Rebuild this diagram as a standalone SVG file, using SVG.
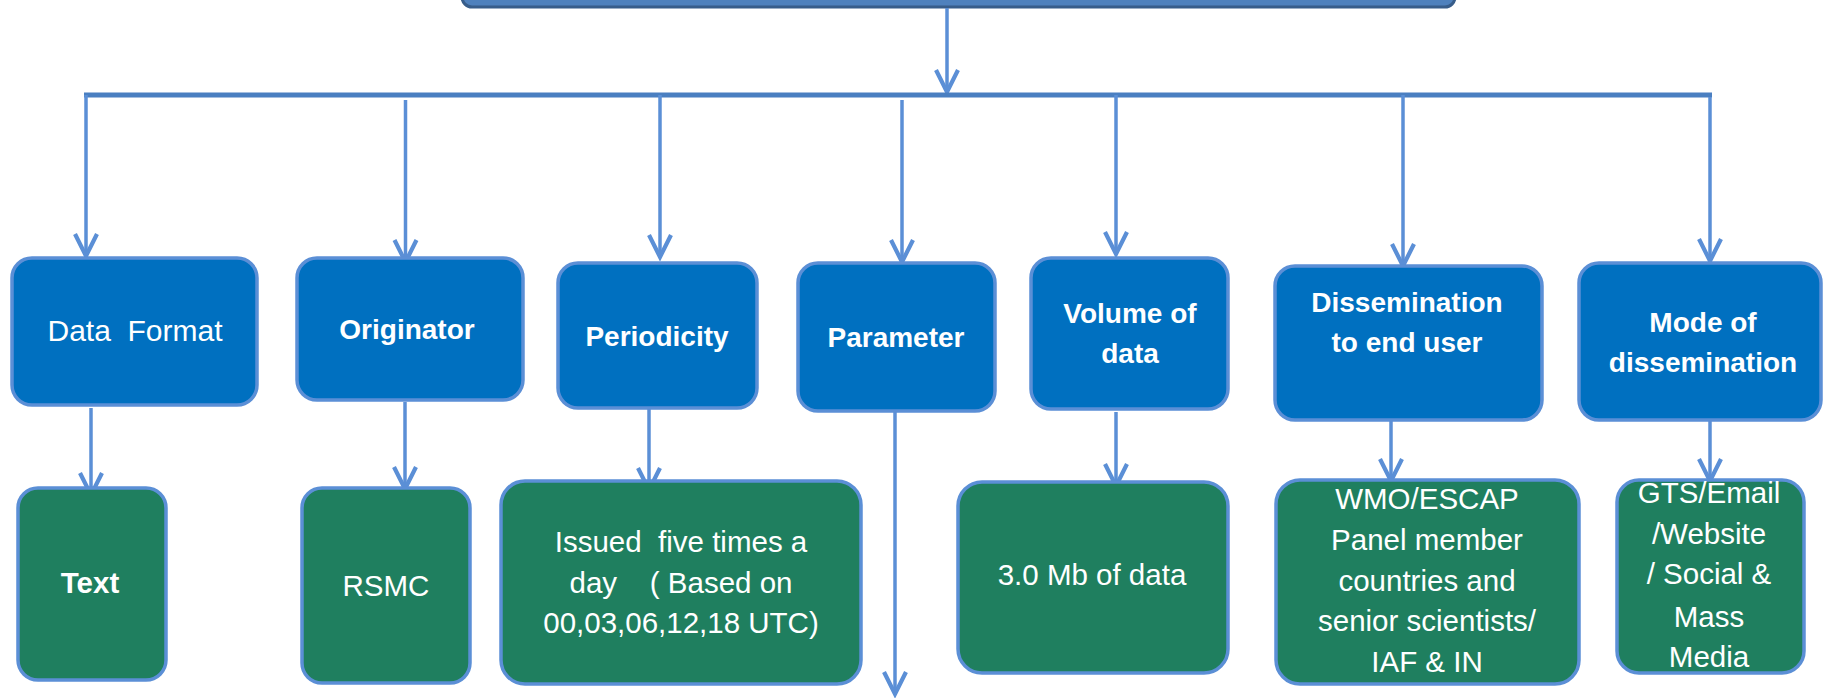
<svg xmlns="http://www.w3.org/2000/svg" width="1823" height="698" viewBox="0 0 1823 698">
<defs>
<style>
.top{fill:#0070C0;stroke:#5B8FD6;stroke-width:3.5}
.bot{fill:#1F7F5F;stroke:#5B8FD6;stroke-width:3.5}
.con{stroke:#5B8FD6;stroke-width:3.5;fill:none}
.bar{stroke:#4A7FC1;stroke-width:5;fill:none}
.t{font-family:"Liberation Sans",Arial,sans-serif;fill:#fff;text-anchor:middle;font-size:28px}
.b{font-weight:bold}
.s{font-size:29.5px}
</style>
<marker id="ah" viewBox="-26 -14 30 28" refX="0" refY="0" markerWidth="30" markerHeight="28" markerUnits="userSpaceOnUse" orient="auto">
<path d="M-22,-11 L0,0 L-22,11" fill="none" stroke="#5B8FD6" stroke-width="4.2" stroke-linejoin="miter"/>
</marker>
</defs>
<rect width="1823" height="698" fill="#fff"/>
<g id="root">
<rect x="462" y="-30" width="993" height="37" rx="10" fill="#4F81BD" stroke="#385D8A" stroke-width="3"/>
</g>
<g id="connectors">
<line class="con" x1="947" y1="8" x2="947" y2="92" marker-end="url(#ah)"/>
<line class="bar" x1="84" y1="95" x2="1712" y2="95"/>
<polyline class="con" points="86,95 86,256" marker-end="url(#ah)"/>
<line class="con" x1="405.5" y1="100" x2="405.5" y2="262" marker-end="url(#ah)"/>
<line class="con" x1="660" y1="95" x2="660" y2="257" marker-end="url(#ah)"/>
<line class="con" x1="902" y1="100" x2="902" y2="262" marker-end="url(#ah)"/>
<line class="con" x1="1116" y1="95" x2="1116" y2="254" marker-end="url(#ah)"/>
<line class="con" x1="1403" y1="95" x2="1403" y2="266" marker-end="url(#ah)"/>
<line class="con" x1="1710" y1="97" x2="1710" y2="261" marker-end="url(#ah)"/>
<line class="con" x1="91" y1="408" x2="91" y2="495" marker-end="url(#ah)"/>
<line class="con" x1="405" y1="402" x2="405" y2="489" marker-end="url(#ah)"/>
<line class="con" x1="649" y1="403" x2="649" y2="490" marker-end="url(#ah)"/>
<line class="con" x1="895" y1="411" x2="895" y2="694" marker-end="url(#ah)"/>
<line class="con" x1="1116" y1="412" x2="1116" y2="486" marker-end="url(#ah)"/>
<line class="con" x1="1391" y1="420" x2="1391" y2="481" marker-end="url(#ah)"/>
<line class="con" x1="1710" y1="420" x2="1710" y2="481" marker-end="url(#ah)"/>
</g>
<g id="data-format"><rect class="top" x="12" y="258" width="245" height="147" rx="20"/><text class="t" x="135" y="341" style="font-size:30px" xml:space="preserve">Data  Format</text></g>
<g id="originator"><rect class="top" x="297" y="258" width="226" height="142" rx="20"/><text class="t b" x="407" y="339">Originator</text></g>
<g id="periodicity"><rect class="top" x="558" y="263" width="199" height="145" rx="20"/><text class="t b" x="657" y="346">Periodicity</text></g>
<g id="parameter"><rect class="top" x="798" y="263" width="197" height="148" rx="20"/><text class="t b" x="896" y="347">Parameter</text></g>
<g id="volume"><rect class="top" x="1031" y="258" width="197" height="151" rx="20"/><text class="t b" x="1130" y="323">Volume of</text><text class="t b" x="1130" y="363">data</text></g>
<g id="dissemination"><rect class="top" x="1275" y="266" width="267" height="154" rx="20"/><text class="t b" x="1407" y="312">Dissemination</text><text class="t b" x="1407" y="352">to end user</text></g>
<g id="mode"><rect class="top" x="1579" y="263" width="242" height="157" rx="20"/><text class="t b" x="1703" y="332">Mode of</text><text class="t b" x="1703" y="372">dissemination</text></g>
<g id="text"><rect class="bot" x="18" y="488" width="148" height="192" rx="20"/><text class="t b s" x="90" y="593">Text</text></g>
<g id="rsmc"><rect class="bot" x="302" y="488" width="168" height="195" rx="20"/><text class="t s" x="386" y="596">RSMC</text></g>
<g id="issued"><rect class="bot" x="501" y="481" width="360" height="203" rx="24"/><text class="t s" x="681" y="552" xml:space="preserve">Issued  five times a</text><text class="t s" x="681" y="593" xml:space="preserve">day    ( Based on</text><text class="t s" x="681" y="633">00,03,06,12,18 UTC)</text></g>
<g id="volume-value"><rect class="bot" x="958" y="482" width="270" height="191" rx="24"/><text class="t s" x="1092" y="585">3.0 Mb of data</text></g>
<g id="end-users"><rect class="bot" x="1276" y="480" width="303" height="204" rx="24"/><text class="t s" x="1427" y="509">WMO/ESCAP</text><text class="t s" x="1427" y="550">Panel member</text><text class="t s" x="1427" y="591">countries and</text><text class="t s" x="1427" y="631">senior scientists/</text><text class="t s" x="1427" y="672">IAF &amp; IN</text></g>
<g id="mode-value"><rect class="bot" x="1617" y="480" width="187" height="193" rx="22"/><text class="t s" x="1709" y="503">GTS/Email</text><text class="t s" x="1709" y="544">/Website</text><text class="t s" x="1709" y="584">/ Social &amp;</text><text class="t s" x="1709" y="627">Mass</text><text class="t s" x="1709" y="667">Media</text></g>
</svg>
